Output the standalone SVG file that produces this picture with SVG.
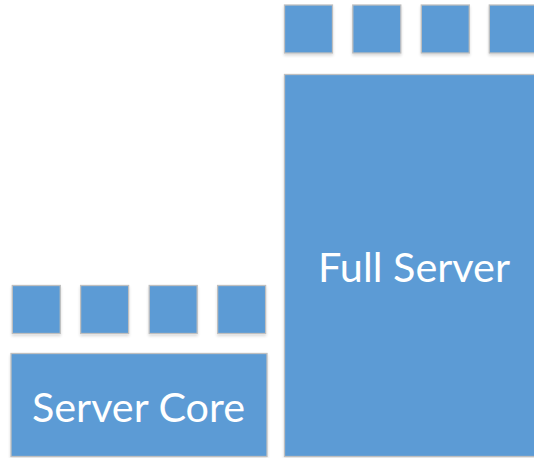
<svg xmlns="http://www.w3.org/2000/svg" width="534" height="458" viewBox="0 0 534 458">
<defs>
<filter id="sh" x="-10%" y="-10%" width="130%" height="130%">
<feGaussianBlur in="SourceAlpha" stdDeviation="1.5"/>
<feOffset dx="0" dy="2"/>
<feComponentTransfer><feFuncA type="linear" slope="0.15"/></feComponentTransfer>
<feMerge><feMergeNode/><feMergeNode in="SourceGraphic"/></feMerge>
</filter>
<style>
.b{fill:#5B9BD5;stroke:#BFBFBF;stroke-width:1.3;filter:url(#sh)}
.t{fill:#FFFFFF;font-family:Lato,"Open Sans","Liberation Sans",sans-serif;font-size:41px;text-anchor:middle}
</style>
</defs>
<g id="full-server">
<rect class="b" x="284.5" y="74.5" width="252" height="382"/>
<text class="t" x="414" y="282" textLength="192" lengthAdjust="spacingAndGlyphs">Full Server</text>
</g>
<g id="full-squares">
<rect class="b" x="284.5" y="5" width="48" height="48"/>
<rect class="b" x="352.8" y="5" width="48" height="48"/>
<rect class="b" x="421.3" y="5" width="48" height="48"/>
<rect class="b" x="489.3" y="5" width="48" height="48"/>
</g>
<g id="server-core">
<rect class="b" x="11" y="353.5" width="256" height="103"/>
<text class="t" x="138.5" y="422" textLength="213" lengthAdjust="spacingAndGlyphs">Server Core</text>
</g>
<g id="core-squares">
<rect class="b" x="12.3" y="285.5" width="48" height="48"/>
<rect class="b" x="80.6" y="285.5" width="48" height="48"/>
<rect class="b" x="149.2" y="285.5" width="48" height="48"/>
<rect class="b" x="217.6" y="285.5" width="48" height="48"/>
</g>
<g id="connectors"/>
</svg>
